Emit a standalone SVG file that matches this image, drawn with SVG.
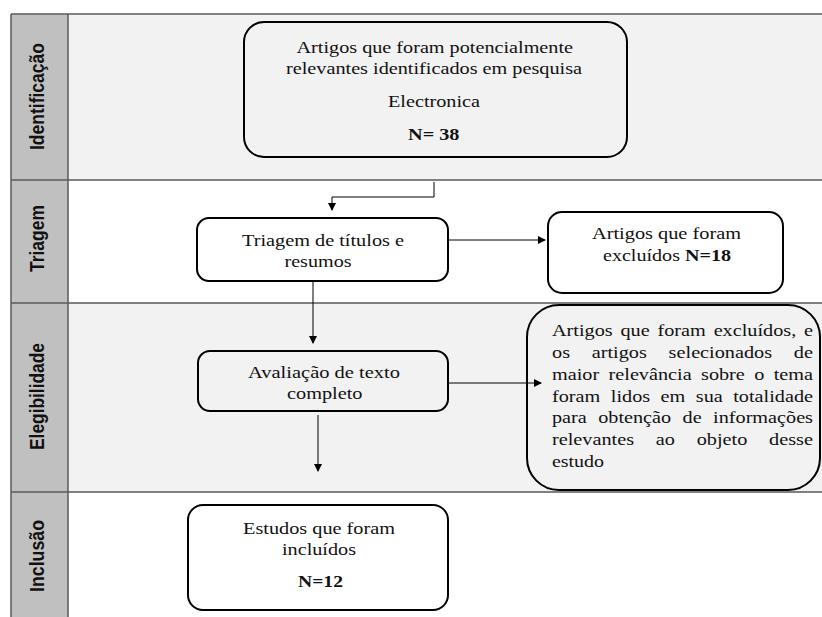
<svg xmlns="http://www.w3.org/2000/svg" width="822" height="617" viewBox="0 0 822 617">
<defs>
<style>
.lane-line{stroke:#595959;stroke-width:1.5;fill:none}
.box{stroke:#000;stroke-width:2}
.t{font-family:"Liberation Serif","Times New Roman",serif;font-size:17.5px;fill:#111}
.b{font-weight:bold}
.lbl{font-family:"Liberation Sans",Arial,sans-serif;font-weight:bold;font-size:20px;fill:#111;text-anchor:middle}
.conn{stroke:#000;stroke-width:1;fill:none}
</style>
<marker id="arr" markerWidth="8" markerHeight="8" refX="7" refY="4" orient="auto" markerUnits="userSpaceOnUse">
<path d="M0,0 L8,4 L0,8 Z" fill="#000"/>
</marker>
</defs>

<g id="lanes">
<rect x="11" y="14" width="811" height="166" fill="#f2f2f2"/>
<rect x="11" y="180" width="811" height="123" fill="#ffffff"/>
<rect x="11" y="303" width="811" height="189" fill="#f2f2f2"/>
<rect x="11" y="492" width="811" height="125" fill="#ffffff"/>
<rect x="11" y="14" width="57" height="603" fill="#c0c0c0"/>
<path class="lane-line" d="M11,14 H822 M11,180 H822 M11,303 H822 M11,492 H822 M11,14 V617 M68,14 V617"/>
<text class="lbl" transform="translate(43.5,96.5) rotate(-90)" textLength="107" lengthAdjust="spacingAndGlyphs">Identificação</text>
<text class="lbl" transform="translate(43.5,238.5) rotate(-90)" textLength="67" lengthAdjust="spacingAndGlyphs">Triagem</text>
<text class="lbl" transform="translate(43.5,396.5) rotate(-90)" textLength="107" lengthAdjust="spacingAndGlyphs">Elegibilidade</text>
<text class="lbl" transform="translate(43.5,556) rotate(-90)" textLength="72" lengthAdjust="spacingAndGlyphs">Inclusão</text>
</g>

<g id="identificacao">
<rect class="box" x="244" y="22" width="383" height="135" rx="20" fill="#f2f2f2"/>
<text class="t" x="296.5" y="53" textLength="276.5" lengthAdjust="spacingAndGlyphs">Artigos que foram potencialmente</text>
<text class="t" x="286" y="74" textLength="296" lengthAdjust="spacingAndGlyphs">relevantes identificados em pesquisa</text>
<text class="t" x="388" y="107" textLength="92" lengthAdjust="spacingAndGlyphs">Electronica</text>
<text class="t b" x="408" y="140" textLength="51.5" lengthAdjust="spacingAndGlyphs">N= 38</text>
</g>

<g id="triagem">
<rect class="box" x="197" y="218" width="251" height="63" rx="12" fill="#ffffff"/>
<text class="t" x="242" y="246" textLength="162" lengthAdjust="spacingAndGlyphs">Triagem de títulos e</text>
<text class="t" x="284.5" y="267" textLength="67" lengthAdjust="spacingAndGlyphs">resumos</text>
</g>

<g id="excluidos">
<rect class="box" x="548" y="212" width="235" height="81" rx="14" fill="#ffffff"/>
<text class="t" x="592" y="239" textLength="149" lengthAdjust="spacingAndGlyphs">Artigos que foram</text>
<text class="t" x="603" y="261" textLength="128" lengthAdjust="spacingAndGlyphs">excluídos <tspan class="b">N=18</tspan></text>
</g>

<g id="avaliacao">
<rect class="box" x="198" y="351" width="250" height="60" rx="12" fill="#f2f2f2"/>
<text class="t" x="248" y="378" textLength="152" lengthAdjust="spacingAndGlyphs">Avaliação de texto</text>
<text class="t" x="287" y="399" textLength="75.5" lengthAdjust="spacingAndGlyphs">completo</text>
</g>

<g id="excluidos-texto-completo">
<rect class="box" x="527" y="305" width="293" height="185" rx="32" fill="#f2f2f2"/>
<text class="t" x="552" y="336" word-spacing="2.4" textLength="261" lengthAdjust="spacingAndGlyphs">Artigos que foram excluídos, e</text>
<text class="t" x="552" y="358" word-spacing="14.4" textLength="261" lengthAdjust="spacingAndGlyphs">os artigos selecionados de</text>
<text class="t" x="552" y="380" word-spacing="3.75" textLength="261" lengthAdjust="spacingAndGlyphs">maior relevância sobre o tema</text>
<text class="t" x="552" y="402" word-spacing="4.7" textLength="261" lengthAdjust="spacingAndGlyphs">foram lidos em sua totalidade</text>
<text class="t" x="552" y="423" word-spacing="5.5" textLength="261" lengthAdjust="spacingAndGlyphs">para obtenção de informações</text>
<text class="t" x="552" y="445" word-spacing="14.4" textLength="261" lengthAdjust="spacingAndGlyphs">relevantes ao objeto desse</text>
<text class="t" x="552" y="467" textLength="52" lengthAdjust="spacingAndGlyphs">estudo</text>
</g>

<g id="inclusao">
<rect class="box" x="188" y="505" width="260" height="105" rx="15" fill="#ffffff"/>
<text class="t" x="243" y="534" textLength="152" lengthAdjust="spacingAndGlyphs">Estudos que foram</text>
<text class="t" x="282" y="555" textLength="74" lengthAdjust="spacingAndGlyphs">incluídos</text>
<text class="t b" x="298" y="587" textLength="45" lengthAdjust="spacingAndGlyphs">N=12</text>
</g>

<g id="connectors">
<path class="conn" d="M434,182 V197 H332 V210" marker-end="url(#arr)"/>
<path class="conn" d="M313,281 V343" marker-end="url(#arr)"/>
<path class="conn" d="M448,240 H545" marker-end="url(#arr)"/>
<path class="conn" d="M448,383 H541" marker-end="url(#arr)"/>
<path class="conn" d="M318,415 V471" marker-end="url(#arr)"/>
</g>
</svg>
